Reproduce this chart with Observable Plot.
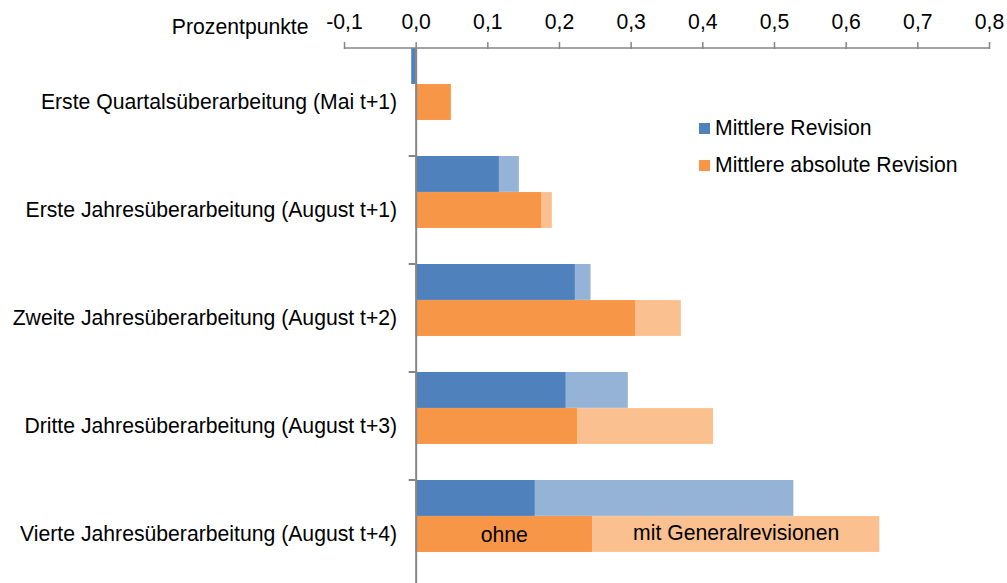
<!DOCTYPE html>
<html>
<head>
<meta charset="utf-8">
<script src="https://cdn.jsdelivr.net/npm/d3@7"></script>
<script src="https://cdn.jsdelivr.net/npm/@observablehq/plot@0.6"></script>
<style>
  html, body { margin: 0; padding: 0; background: #fff; }
  #wrap { position: relative; width: 1007px; height: 583px; font-family: "Liberation Sans", Arial, sans-serif; }
  #wrap svg { position: absolute; left: 0; top: 0; overflow: visible; }
  .leg { position: absolute; left: 699px; font-size: 21.2px; color: #000; white-space: nowrap; line-height: 20px; }
  .leg span.sw { display: inline-block; width: 11px; height: 11px; margin-right: 5px; vertical-align: 1px; }
</style>
</head>
<body>
<div id="wrap"></div>
<script>
// ---- data ----
const categories = [
  "Erste Quartalsüberarbeitung (Mai t+1)",
  "Erste Jahresüberarbeitung (August t+1)",
  "Zweite Jahresüberarbeitung (August t+2)",
  "Dritte Jahresüberarbeitung (August t+3)",
  "Vierte Jahresüberarbeitung (August t+4)"
];
// Mittlere Revision: ohne / mit Generalrevisionen
const mrOhne = [-0.006, 0.116, 0.222, 0.209, 0.166];
const mrMit  = [-0.006, 0.144, 0.244, 0.296, 0.527];
// Mittlere absolute Revision: ohne / mit Generalrevisionen
const marOhne = [0.049, 0.175, 0.306, 0.225, 0.246];
const marMit  = [0.049, 0.190, 0.370, 0.415, 0.647];
const xTicks = [-0.1, 0, 0.1, 0.2, 0.3, 0.4, 0.5, 0.6, 0.7, 0.8];
const seriesNames = ["Mittlere Revision", "Mittlere absolute Revision"];
const annotation = ["ohne", "mit Generalrevisionen"];
const axisTitle = "Prozentpunkte";

// ---- layout / style ----
const W = 1007, H = 583;
const yTop = 47.7, yBot = 588.7;
const bw = (yBot - yTop) / categories.length;
const cBlue = "#4F81BD", cBlueL = "#95B3D7", cOrange = "#F79646", cOrangeL = "#FAC090";
const axisColor = "#868686";
const fs = 21.2;

const rows = categories.map((c, i) => ({cat: c, mrO: mrOhne[i], mrM: mrMit[i], marO: marOhne[i], marM: marMit[i]}));
const last = rows[rows.length - 1];
const fmt = d => d.toFixed(1).replace(".", ",");

const chart = Plot.plot({
  width: W, height: H,
  marginLeft: 344, marginRight: 18, marginTop: 48, marginBottom: 0,
  style: {fontFamily: '"Liberation Sans", Arial, sans-serif', fontSize: fs + "px", color: "#000", background: "transparent"},
  x: {domain: [-0.1, 0.8]},
  y: {domain: categories, range: [yTop, yBot], padding: 0, axis: null},
  marks: [
    // Mittlere Revision
    Plot.barX(rows, {y: "cat", x1: 0, x2: "mrM", fill: cBlueL, insetTop: 0, insetBottom: 2 * bw / 3}),
    Plot.barX(rows, {y: "cat", x1: 0, x2: "mrO", fill: cBlue, insetTop: 0, insetBottom: 2 * bw / 3}),
    // Mittlere absolute Revision
    Plot.barX(rows, {y: "cat", x1: 0, x2: "marM", fill: cOrangeL, insetTop: bw / 3, insetBottom: bw / 3}),
    Plot.barX(rows, {y: "cat", x1: 0, x2: "marO", fill: cOrange, insetTop: bw / 3, insetBottom: bw / 3}),
    // value axis (vertical line at 0)
    Plot.ruleX([0], {stroke: axisColor, strokeWidth: 2}),
    Plot.axisX({anchor: "top", ticks: xTicks, tickFormat: fmt, tickSize: 7, tickPadding: 13, stroke: axisColor, strokeWidth: 1.5, fill: "#000", fontSize: fs}),
    // category labels
    Plot.text(categories, {y: d => d, x: () => 0, textAnchor: "end", dx: -19, fill: "#000", fontSize: fs}),
    // annotations in last bar
    Plot.text([last], {y: "cat", x: d => d.marO / 2, text: () => annotation[0], fill: "#000", fontSize: fs, dy: 1}),
    Plot.text([last], {y: "cat", x: d => (d.marO + d.marM) / 2, text: () => annotation[1], fill: "#000", fontSize: fs, dy: -1}),
    // axis title
    Plot.text([axisTitle], {x: () => -0.1, y: () => categories[0], text: d => d, textAnchor: "end", dx: -36, dy: -bw / 2 - 21, fill: "#000", fontSize: fs})
  ]
});

// horizontal axis line and category ticks using the plot's scales
const sx = chart.scale("x"), sy = chart.scale("y");
const svg = d3.select(chart);
svg.append("line")
  .attr("x1", sx.apply(-0.1)).attr("x2", sx.apply(0.8))
  .attr("y1", sy.apply(categories[0])).attr("y2", sy.apply(categories[0]))
  .attr("stroke", axisColor).attr("stroke-width", 1.5);
svg.selectAll("line.cattick").data(categories.slice(1)).join("line")
  .attr("class", "cattick")
  .attr("x1", sx.apply(0) - 7).attr("x2", sx.apply(0))
  .attr("y1", d => sy.apply(d)).attr("y2", d => sy.apply(d))
  .attr("stroke", axisColor).attr("stroke-width", 2);

const wrap = document.getElementById("wrap");
wrap.appendChild(chart);

// legend
const legTops = [118, 155];
[[seriesNames[0], cBlue], [seriesNames[1], cOrange]].forEach(([name, col], i) => {
  const d = document.createElement("div");
  d.className = "leg";
  d.style.top = legTops[i] + "px";
  d.innerHTML = `<span class="sw" style="background:${col}"></span>${name}`;
  wrap.appendChild(d);
});
</script>
</body>
</html>
